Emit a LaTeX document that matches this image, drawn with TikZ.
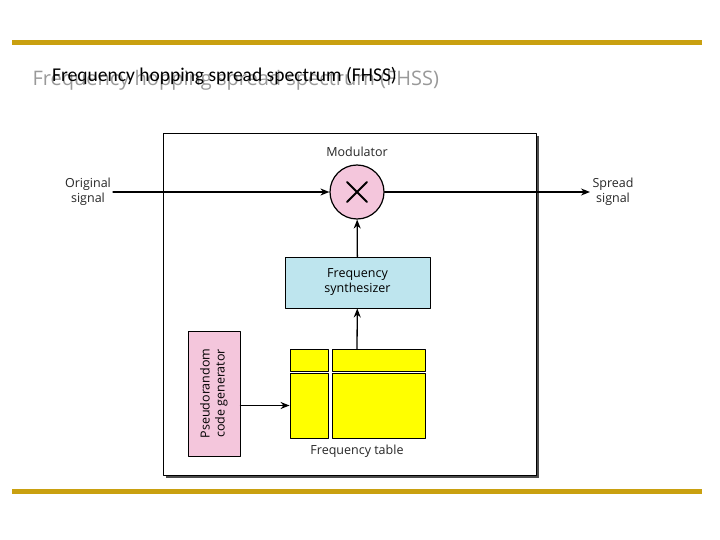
\documentclass[tikz,border=0pt]{standalone}
\usepackage{fontspec}
\setmainfont{Open Sans}
\newfontfamily\titlefont{Carlito}
\usetikzlibrary{arrows.meta,positioning}
\definecolor{barGold}{RGB}{201,160,16}
\definecolor{modPink}{RGB}{244,198,220}
\definecolor{synthBlue}{RGB}{190,229,238}
\definecolor{tabYellow}{RGB}{255,255,0}
\tikzset{
  conn/.style={draw, line width=1.3pt, -{Stealth[length=9pt,width=7pt]}},
  cell/.style={draw, line width=0.9pt, fill=tabYellow, inner sep=0pt},
  lbl/.style={font=\fontsize{12.5}{15}\selectfont, align=center, text=black!85},
  box/.style={draw, line width=0.9pt, align=center, font=\fontsize{12.5}{15}\selectfont},
}
\begin{document}
\begin{tikzpicture}[x=1pt,y=-1pt,line cap=round,line join=round]
  \useasboundingbox (0,0) rectangle (720,540);
  % bars and title
  \fill[barGold] (12,40) rectangle (702,45);
  \fill[barGold] (12,489) rectangle (702,494);
  \node[anchor=west, text=black!40, font=\fontsize{20}{24}\selectfont] (titleb) at (29,80) {Frequency hopping spread spectrum (FHSS)};
  \node[anchor=west, inner sep=0pt, font=\titlefont\fontsize{19.5}{22}\selectfont] (title) at (52,76) {Frequency hopping spread spectrum (FHSS)};
  % frame
  \fill[black!70] (166,136) rectangle (539,478);
  \draw[fill=white, line width=0.9pt] (163,133) rectangle (536,475);
  % modulator
  \node[circle, draw, line width=1.2pt, fill=modPink, minimum size=54pt, inner sep=0pt] (mod) at (357,192) {};
  \draw[line width=2pt] ([shift={(-10,-10)}]mod.center) -- ([shift={(10,10)}]mod.center)
                        ([shift={(-10,10)}]mod.center) -- ([shift={(10,-10)}]mod.center);
  \node[lbl] (modlbl) at (357,152) {Modulator};
  \node[lbl] (orig) at (88,192) {Original\\signal};
  \node[lbl] (spread) at (613,192) {Spread\\signal};
  \coordinate (origEnd) at (113,192);
  \coordinate (spreadEnd) at (590,192);
  \draw[conn] (origEnd) -- (mod);
  \draw[conn] (mod) -- (spreadEnd);
  % synthesizer
  \node[box, fill=synthBlue, minimum width=145pt, minimum height=51pt] (synth) at (357.5,282.5) {Frequency\\synthesizer};
  \draw[conn] (synth) -- (mod);
  % frequency table
  \node[cell, minimum width=38pt, minimum height=22pt] (tl) at (309,360) {};
  \node[cell, minimum width=93pt, minimum height=22pt] (tr) at (378.5,360) {};
  \node[cell, minimum width=38pt, minimum height=65pt] (bl) at (309,405.5) {};
  \node[cell, minimum width=93pt, minimum height=65pt] (br) at (378.5,405.5) {};
  \node[lbl] (tablbl) at (357,451) {Frequency table};
  \coordinate (tabTop) at (357,349);
  \draw[conn] (tabTop) -- (synth);
  % pseudorandom code generator
  \node[box, fill=modPink, minimum width=52pt, minimum height=125pt, inner sep=0pt] (prng) at (214,393.5)
    {\rotatebox{90}{\begin{tabular}{@{}c@{}}Pseudorandom\\code generator\end{tabular}}};
  \draw[conn] (prng.east |- bl.west) -- (bl.west);
\end{tikzpicture}
\end{document}
